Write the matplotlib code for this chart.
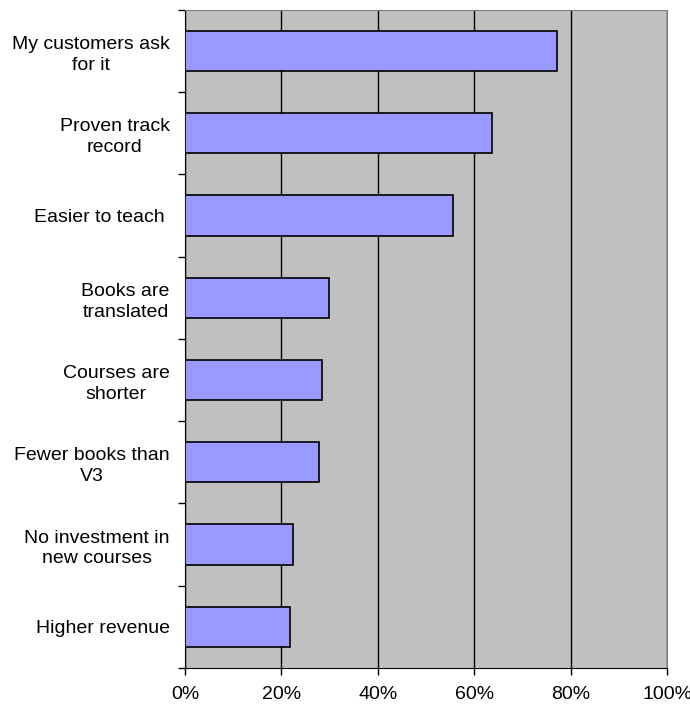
import matplotlib.pyplot as plt
import numpy as np
from matplotlib.ticker import FuncFormatter, FixedLocator

plt.rcParams['font.family'] = ['Liberation Sans', 'DejaVu Sans']

# categories top to bottom
labels = ['My customers ask\nfor it', 'Proven track\nrecord', 'Easier to teach ',
          'Books are\ntranslated', 'Courses are\nshorter', 'Fewer books than\nV3',
          'No investment in\nnew courses', 'Higher revenue']
values = [0.772, 0.636, 0.555, 0.299, 0.284, 0.277, 0.225, 0.218]
xticks = [0, 0.2, 0.4, 0.6, 0.8, 1.0]

fig = plt.figure(figsize=(6.9, 7.06), dpi=100)
ax = fig.add_axes([0.268, 0.054, 0.699, 0.932])
ax.set_facecolor('#C0C0C0')

n = len(labels)
y = np.arange(n)[::-1]
ax.barh(y, values, height=0.49, color='#9999FF', edgecolor='black', linewidth=1.2, zorder=3)

ax.set_xlim(0, 1)
ax.set_ylim(-0.5, n - 0.5)
ax.set_xticks(xticks)
ax.xaxis.set_major_formatter(FuncFormatter(lambda v, p: '%d%%' % round(v * 100)))
ax.grid(axis='x', color='black', linewidth=1, zorder=1)

# ticks between categories, labels at centres
ax.yaxis.set_major_locator(FixedLocator(np.arange(-0.5, n, 1)))
ax.yaxis.set_major_formatter(FuncFormatter(lambda v, p: ''))
ax.yaxis.set_minor_locator(FixedLocator(y))
ax.set_yticklabels(labels, minor=True, multialignment='center', linespacing=1.3)
ax.tick_params(axis='y', which='minor', length=0, pad=11, labelsize=14)
ax.tick_params(axis='y', which='major', length=5, width=1)
ax.tick_params(axis='x', length=5, width=1, labelsize=14, pad=8)

for s in ['top', 'right']:
    ax.spines[s].set_color('#808080')
for s in ['left', 'bottom']:
    ax.spines[s].set_color('black')

fig.savefig('out.png', dpi=100)
